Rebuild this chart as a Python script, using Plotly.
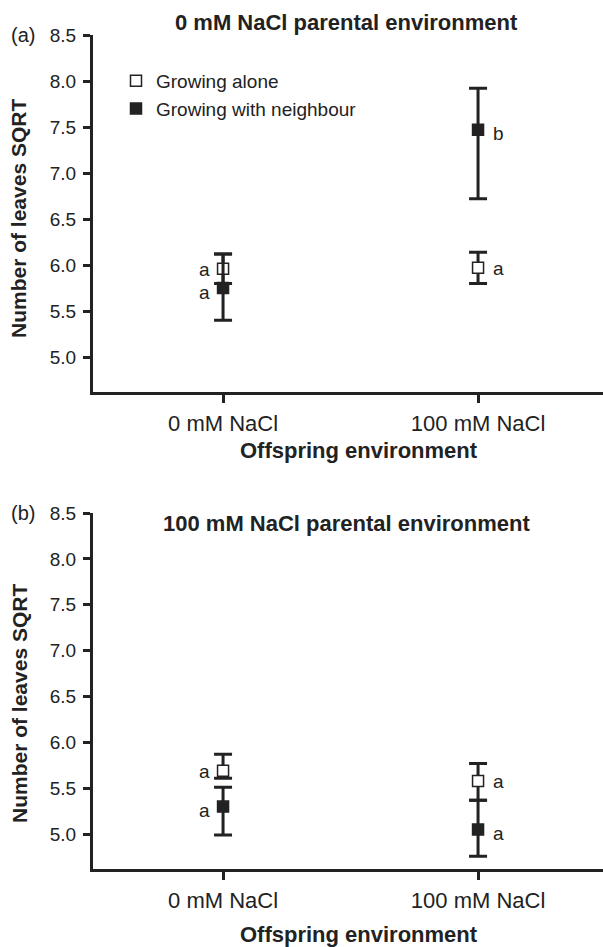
import plotly.graph_objects as go

# ---- data ----
categories = ["0 mM NaCl", "100 mM NaCl"]
cat_pos = [0, 1]
series_names = ["Growing alone", "Growing with neighbour"]

# Panel (a): 0 mM NaCl parental environment
a_alone = [5.96, 5.97]
a_alone_up = [0.16, 0.17]
a_alone_dn = [0.16, 0.17]
a_neigh = [5.75, 7.47]
a_neigh_up = [0.37, 0.45]
a_neigh_dn = [0.35, 0.75]
a_letters_alone = ["a", "a"]
a_letters_neigh = ["a", "b"]

# Panel (b): 100 mM NaCl parental environment
b_alone = [5.69, 5.58]
b_alone_up = [0.18, 0.19]
b_alone_dn = [0.08, 0.21]
b_neigh = [5.30, 5.05]
b_neigh_up = [0.21, 0.32]
b_neigh_dn = [0.31, 0.29]
b_letters_alone = ["a", "a"]
b_letters_neigh = ["a", "a"]

y_ticks = [5.0, 5.5, 6.0, 6.5, 7.0, 7.5, 8.0, 8.5]
panel_titles = ["0 mM NaCl parental environment", "100 mM NaCl parental environment"]
panel_labels = ["(a)", "(b)"]
y_title = "Number of leaves SQRT"
x_title = "Offspring environment"

INK = "#222222"
FONT = "Liberation Sans, Arial, sans-serif"

fig = go.Figure()

def add_panel(xa, ya, alone, aup, adn, neigh, nup, ndn, show):
    fig.add_trace(go.Scatter(
        x=cat_pos, y=alone, mode="markers", name=series_names[0],
        xaxis=xa, yaxis=ya, showlegend=show, hoverinfo="skip",
        marker=dict(symbol="square", size=11, color="white",
                    line=dict(color=INK, width=1.5)),
        error_y=dict(type="data", symmetric=False, array=aup, arrayminus=adn,
                     color=INK, thickness=3, width=9),
    ))
    fig.add_trace(go.Scatter(
        x=cat_pos, y=neigh, mode="markers", name=series_names[1],
        xaxis=xa, yaxis=ya, showlegend=show, hoverinfo="skip",
        marker=dict(symbol="square", size=11, color=INK,
                    line=dict(color=INK, width=1.5)),
        error_y=dict(type="data", symmetric=False, array=nup, arrayminus=ndn,
                     color=INK, thickness=3, width=9),
    ))

add_panel("x", "y", a_alone, a_alone_up, a_alone_dn, a_neigh, a_neigh_up, a_neigh_dn, True)
add_panel("x2", "y2", b_alone, b_alone_up, b_alone_dn, b_neigh, b_neigh_up, b_neigh_dn, False)

annotations = []

def letters(xref, yref, alone, neigh, la, ln):
    for i, xv in enumerate(cat_pos):
        shift = -19 if i == 0 else 20
        for val, lab, ys in ((alone[i], la[i], -1), (neigh[i], ln[i], -4)):
            annotations.append(dict(
                x=xv, y=val, xref=xref, yref=yref, text=lab, showarrow=False,
                xanchor="center", yanchor="middle",
                xshift=shift, yshift=ys, font=dict(family=FONT, size=19, color=INK)))

letters("x", "y", a_alone, a_neigh, a_letters_alone, a_letters_neigh)
letters("x2", "y2", b_alone, b_neigh, b_letters_alone, b_letters_neigh)

W, H = 603, 947
ML, MR, MT, MB = 93, 0, 35, 78
plot_h = H - MT - MB

def py(pix):
    return (H - MB - pix) / plot_h

def px(pix):
    return (pix - ML) / (W - ML - MR)

def txt(xp, yp, text, size, angle=0):
    annotations.append(dict(x=px(xp), y=py(yp), xref="paper", yref="paper",
                            text=text, showarrow=False, textangle=angle,
                            xanchor="center", yanchor="middle",
                            font=dict(family=FONT, size=size, color=INK)))

# panel titles
txt(346, 22, "<b>%s</b>" % panel_titles[0], 22)
txt(346, 523, "<b>%s</b>" % panel_titles[1], 22)
# panel labels
txt(23, 35, panel_labels[0], 20)
txt(23, 513, panel_labels[1], 20)
# y titles
txt(19, 219, "<b>%s</b>" % y_title, 21, -90)
txt(19, 704, "<b>%s</b>" % y_title, 21, -90)
# x titles
txt(359, 450, "<b>%s</b>" % x_title, 22)
txt(359, 934, "<b>%s</b>" % x_title, 22)

yax = dict(range=[4.62, 8.5], tickvals=y_ticks, tickformat=".1f",
           showgrid=False, zeroline=False, showline=True, linewidth=3, linecolor=INK,
           ticks="outside", ticklen=7, tickwidth=3, tickcolor=INK,
           tickfont=dict(family=FONT, size=19, color=INK), ticklabelstandoff=3)
xax = dict(range=[-0.51, 1.49], tickvals=cat_pos, ticktext=categories,
           showgrid=False, zeroline=False, showline=True, linewidth=3, linecolor=INK,
           ticks="outside", ticklen=8, tickwidth=3, tickcolor=INK,
           tickfont=dict(family=FONT, size=22, color=INK), ticklabelstandoff=2)

fig.update_layout(
    width=W, height=H, margin=dict(l=ML, r=MR, t=MT, b=MB),
    paper_bgcolor="white", plot_bgcolor="white",
    xaxis=dict(xax, anchor="y", domain=[0, 1]),
    yaxis=dict(yax, anchor="x", domain=[py(392), 1]),
    xaxis2=dict(xax, anchor="y2", domain=[0, 1]),
    yaxis2=dict(yax, anchor="x2", domain=[0, py(513)]),
    legend=dict(x=px(116), y=py(62), xanchor="left", yanchor="top",
                bgcolor="rgba(0,0,0,0)", font=dict(family=FONT, size=19, color=INK),
                tracegroupgap=0, itemsizing="trace"),
    annotations=annotations,
    showlegend=True,
    hovermode=False,
)

fig.write_html("out.html", config={"displayModeBar": False},
               post_script="document.body.style.margin='0';document.body.style.padding='0';")
